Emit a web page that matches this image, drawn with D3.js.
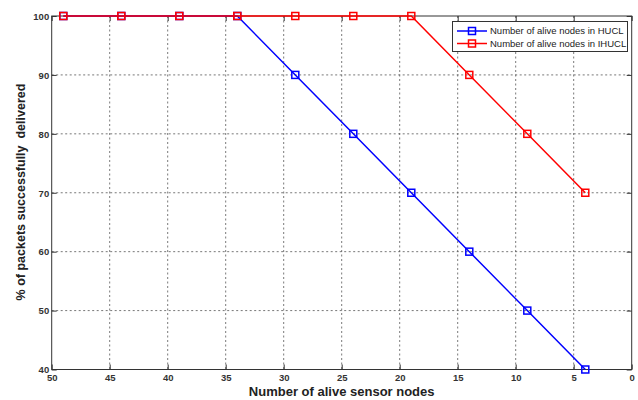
<!DOCTYPE html>
<html><head><meta charset="utf-8">
<script src="https://cdn.jsdelivr.net/npm/d3@7"></script>
<style>body{margin:0;background:#fff}svg{display:block}</style>
</head><body>
<svg id="c" width="638" height="400"></svg>
<script>
const xTicks=[50,45,40,35,30,25,20,15,10,5,0];
const yTicks=[40,50,60,70,80,90,100];
const nodesHUCL=[49,44,39,34,29,24,19,14,9,4];
const valsHUCL=[100,100,100,100,90,80,70,60,50,40];
const nodesIHUCL=[49,44,39,34,29,24,19,14,9,4];
const valsIHUCL=[100,100,100,100,100,100,100,90,80,70];
const seriesNames=["Number of alive nodes in HUCL","Number of alive nodes in IHUCL"];
const colors=["#0000ff","#ff0000"];

const svg=d3.select("#c");
const L=51.7,R=631.7,T=16,B=369.5;
const x=d3.scaleLinear().domain([50,0]).range([L,R]);
const y=d3.scaleLinear().domain([40,100]).range([B,T]);

// grid
const g=svg.append("g");
g.selectAll(".gx").data(xTicks.filter(d=>d!==50&&d!==0)).join("line")
 .attr("x1",d=>x(d)).attr("x2",d=>x(d)).attr("y1",T).attr("y2",B)
 .attr("stroke","#555").attr("stroke-width",0.8).attr("stroke-dasharray","2,2.5");
g.selectAll(".gy").data(yTicks.filter(d=>d!==40&&d!==100)).join("line")
 .attr("y1",d=>y(d)).attr("y2",d=>y(d)).attr("x1",L).attr("x2",R)
 .attr("stroke","#555").attr("stroke-width",0.8).attr("stroke-dasharray","2,2.5");

// box
svg.append("rect").attr("x",L).attr("y",T).attr("width",R-L).attr("height",B-T)
 .attr("fill","none").attr("stroke","#333").attr("stroke-width",1);

// axes
const xa=svg.append("g").attr("transform",`translate(0,${B})`)
 .call(d3.axisBottom(x).tickValues(xTicks).tickSize(-5).tickPadding(4.5).tickFormat(d3.format("d")));
const xa2=svg.append("g").attr("transform",`translate(0,${T})`)
 .call(d3.axisTop(x).tickValues(xTicks).tickSize(-5).tickFormat(""));
const ya=svg.append("g").attr("transform",`translate(${L},0)`)
 .call(d3.axisLeft(y).tickValues(yTicks).tickSize(-5).tickPadding(2.5).tickFormat(d3.format("d")));
const ya2=svg.append("g").attr("transform",`translate(${R},0)`)
 .call(d3.axisRight(y).tickValues(yTicks).tickSize(-5).tickFormat(""));
[xa,xa2,ya,ya2].forEach(a=>{a.select(".domain").remove();a.selectAll("line").attr("stroke","#333");
 a.selectAll("text").attr("font-family","Arial, Liberation Sans, sans-serif").attr("font-size",9.5)
  .attr("font-weight","bold").attr("fill","#333");});
ya.selectAll("text").attr("dy","0.35em");

// series
const mk=(nodes,vals,col)=>{
 const data=nodes.map((n,i)=>[n,vals[i]]);
 svg.append("path").datum(data).attr("fill","none").attr("stroke",col).attr("stroke-width",1.5)
  .attr("d",d3.line().x(d=>x(d[0])).y(d=>y(d[1])));
 svg.selectAll(null).data(data).join("rect")
  .attr("x",d=>x(d[0])-3.5).attr("y",d=>y(d[1])-3.5).attr("width",7).attr("height",7)
  .attr("fill","none").attr("stroke",col).attr("stroke-width",1.5);
};
mk(nodesHUCL,valsHUCL,colors[0]);
mk(nodesIHUCL,valsIHUCL,colors[1]);

// legend
const lg=svg.append("g");
lg.append("rect").attr("x",452.5).attr("y",21.5).attr("width",175).attr("height",30)
 .attr("fill","#fff").attr("stroke","#333").attr("stroke-width",1);
seriesNames.forEach((s,i)=>{
 const yy=31+i*12.5;
 lg.append("line").attr("x1",457).attr("x2",487).attr("y1",yy).attr("y2",yy).attr("stroke",colors[i]).attr("stroke-width",1.5);
 lg.append("rect").attr("x",468.5).attr("y",yy-3.5).attr("width",7).attr("height",7)
  .attr("fill","none").attr("stroke",colors[i]).attr("stroke-width",1.5);
 lg.append("text").attr("x",490).attr("y",yy).attr("dy","0.35em")
  .attr("font-family","Arial, Liberation Sans, sans-serif").attr("font-size",9.5).attr("fill","#222").text(s);
});

// labels
svg.append("text").attr("x",(L+R)/2-0).attr("y",396).attr("text-anchor","middle")
 .attr("font-family","Arial, Liberation Sans, sans-serif").attr("font-size",13).attr("font-weight","bold").attr("fill","#222")
 .text("Number of alive sensor nodes");
svg.append("text").attr("transform","translate(21,192) rotate(-90)").attr("text-anchor","middle").attr("dy","0.35em")
 .attr("font-family","Arial, Liberation Sans, sans-serif").attr("font-size",12.5).attr("font-weight","bold").attr("fill","#222")
 .attr("xml:space","preserve").text("% of packets successfully  delivered");
</script>
</body></html>
